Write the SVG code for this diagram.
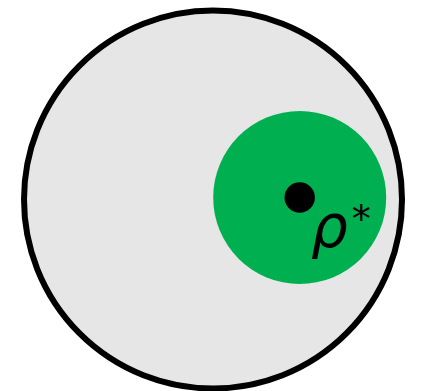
<svg xmlns="http://www.w3.org/2000/svg" width="421" height="391" viewBox="0 0 421 391">
<style>
.outer{fill:#E6E6E6;stroke:#000;stroke-width:6}
.ball{fill:#00B050}
.pt{fill:#000}
.lbl{font-family:"DejaVu Sans",sans-serif;fill:#000}
</style>
<rect width="421" height="391" fill="#fff"/>
<g id="space"><circle class="outer" cx="213" cy="199.5" r="189"/></g>
<g id="ball"><circle class="ball" cx="299.7" cy="197.5" r="86.5"/></g>
<g id="point"><circle class="pt" cx="299.7" cy="197.5" r="15.2"/></g>
<g id="label"><text class="lbl" x="311" y="247" font-size="58"><tspan font-style="italic">ρ</tspan><tspan font-size="38" dx="4" dy="-15">*</tspan></text></g>
<g id="connectors"/>
</svg>
